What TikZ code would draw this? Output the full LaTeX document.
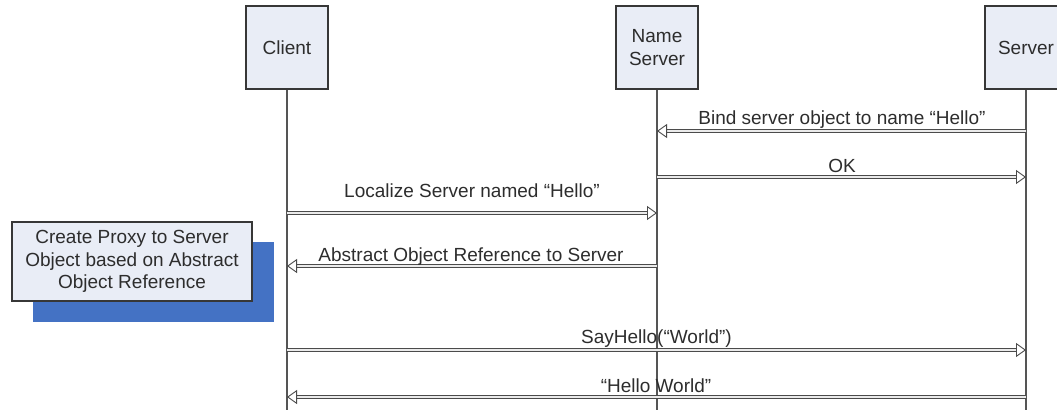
\documentclass[tikz,border=0pt]{standalone}
\usepackage{fontspec}
\setmainfont{Liberation Sans}
\usetikzlibrary{arrows.meta}
\definecolor{boxfill}{RGB}{233,237,246}
\definecolor{boxline}{RGB}{55,55,55}
\definecolor{shadowblue}{RGB}{68,114,196}
\definecolor{txt}{RGB}{45,45,45}
\begin{document}
\begin{tikzpicture}[x=1pt,y=-1pt,
  every node/.style={font=\fontsize{19}{22.5}\selectfont, text=txt},
  actor/.style={draw=boxline, line width=1.2pt, fill=boxfill, minimum width=82pt, minimum height=83pt, inner sep=0pt, align=center},
  lifeline/.style={draw=boxline!85, line width=1.1pt},
  msg/.style={draw=boxline!90, double=white!92!black, double distance=2.6pt, line width=0.9pt, -{Triangle[open,length=10pt,width=14pt,line width=0.9pt]}},
  lbl/.style={anchor=base, inner sep=0pt},
  note/.style={draw=boxline, line width=1.2pt, fill=boxfill, align=center, inner sep=0pt},
  shadowbox/.style={fill=shadowblue, draw=none}
]
\useasboundingbox (0,0) rectangle (1057,410);
% actors
\node[actor] (cbox) at (287,47.5) {Client};
\node[actor] (nbox) at (657,47.5) {Name\\Server};
\node[actor] (sbox) at (1026,47.5) {Server};
% lifeline ends
\coordinate (cend) at (287,410);
\coordinate (nend) at (657,410);
\coordinate (send) at (1026,410);
\draw[lifeline] (cbox.south) -- (cend);
\draw[lifeline] (nbox.south) -- (nend);
\draw[lifeline] (sbox.south) -- (send);
% note with shadow
\node[shadowbox, minimum width=241pt, minimum height=80pt] (shadow) at (153.5,282) {};
\node[note, minimum width=240pt, minimum height=79pt] (note) at (132,261.5) {Create Proxy to Server\\Object based on Abstract\\Object Reference};
% message points
\coordinate (s1) at (1026,131); \coordinate (n1) at (657,131);
\coordinate (n2) at (657,177); \coordinate (s2) at (1026,177);
\coordinate (c3) at (287,213); \coordinate (n3) at (657,213);
\coordinate (n4) at (657,266); \coordinate (c4) at (287,266);
\coordinate (c5) at (287,350); \coordinate (s5) at (1026,350);
\coordinate (s6) at (1026,397); \coordinate (c6) at (287,397);
% messages
\draw[msg] (s1) -- (n1);
\node[lbl] (l1) at (842,124) {Bind server object to name “Hello”};
\draw[msg] (n2) -- (s2);
\node[lbl] (l2) at (842,172) {OK};
\draw[msg] (c3) -- (n3);
\node[lbl] (l3) at (472,197) {Localize Server named “Hello”};
\draw[msg] (n4) -- (c4);
\node[lbl] (l4) at (471,261) {Abstract Object Reference to Server};
\draw[msg] (c5) -- (s5);
\node[lbl] (l5) at (656.5,343) {SayHello(“World”)};
\draw[msg] (s6) -- (c6);
\node[lbl] (l6) at (656,392) {“Hello World”};
\end{tikzpicture}
\end{document}
